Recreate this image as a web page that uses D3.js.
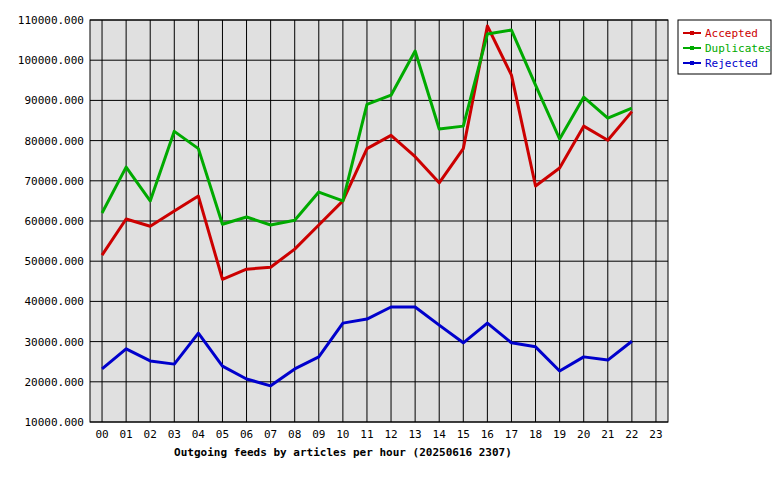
<!DOCTYPE html><html><head><meta charset="utf-8">
<script src="https://cdn.jsdelivr.net/npm/d3@7"></script>
<style>body{margin:0;background:#fff}text{font-family:"DejaVu Sans Mono",monospace;font-size:11px}</style></head><body>
<svg id="c" width="780" height="480"></svg>
<script>
const hours=["00","01","02","03","04","05","06","07","08","09","10","11","12","13","14","15","16","17","18","19","20","21","22","23"];
const accepted=[51500,60500,58700,62500,66200,45500,48000,48500,53000,59000,65000,78000,81300,76000,69500,78000,108500,96300,68700,73200,83600,80100,87200];
const duplicates=[62000,73400,65000,82300,78000,59200,61000,59000,60200,67200,65000,89000,91300,102300,82900,83600,106500,107500,93800,80400,90800,85600,88100];
const rejected=[23200,28200,25200,24400,32100,23900,20700,19000,23200,26200,34600,35600,38600,38600,34100,29700,34600,29700,28700,22700,26200,25400,30100];
const yTicks=[10000,20000,30000,40000,50000,60000,70000,80000,90000,100000,110000];
const series=[{name:"Accepted",data:accepted,color:"#cc0000"},{name:"Duplicates",data:duplicates,color:"#00aa00"},{name:"Rejected",data:rejected,color:"#0000cc"}];
const svg=d3.select("#c");
const L=90,R=668,T=20,B=422;
const x=d3.scaleBand().domain(hours).range([L,R]);
const y=d3.scaleLinear().domain([10000,110000]).range([B,T]);
svg.append("rect").attr("x",L).attr("y",T).attr("width",R-L).attr("height",B-T).attr("fill","#e0e0e0");
svg.selectAll(".gy").data(yTicks).join("line").attr("x1",L).attr("x2",R).attr("y1",d=>y(d)).attr("y2",d=>y(d)).attr("stroke","#000");
svg.selectAll(".gx").data(hours).join("line").attr("x1",d=>x(d)+x.bandwidth()/2).attr("x2",d=>x(d)+x.bandwidth()/2).attr("y1",T).attr("y2",B).attr("stroke","#000");
svg.append("rect").attr("x",L).attr("y",T).attr("width",R-L).attr("height",B-T).attr("fill","none").attr("stroke","#000");
svg.selectAll(".yl").data(yTicks).join("text").attr("x",L-6).attr("y",d=>y(d)+4).attr("text-anchor","end").text(d=>d+".000");
svg.selectAll(".xl").data(hours).join("text").attr("x",d=>x(d)+x.bandwidth()/2).attr("y",B+16).attr("text-anchor","middle").text(d=>d);
svg.append("text").attr("x",343).attr("y",456).attr("text-anchor","middle").attr("font-weight","bold").text("Outgoing feeds by articles per hour (20250616 2307)");
const line=d3.line().x((d,i)=>x(hours[i])+x.bandwidth()/2).y(d=>y(d));
series.forEach(s=>svg.append("path").attr("d",line(s.data)).attr("fill","none").attr("stroke",s.color).attr("stroke-width",3).attr("stroke-linejoin","round"));
const lg=svg.append("g");
lg.append("rect").attr("x",678).attr("y",20).attr("width",93).attr("height",54).attr("fill","#fff").attr("stroke","#000");
series.forEach((s,i)=>{const yy=33+i*15;
lg.append("line").attr("x1",683).attr("x2",701).attr("y1",yy).attr("y2",yy).attr("stroke",s.color).attr("stroke-width",2);
lg.append("rect").attr("x",690).attr("y",yy-2).attr("width",4).attr("height",4).attr("fill",s.color);
lg.append("text").attr("x",705).attr("y",yy+4).attr("fill",s.color).text(s.name);});
</script></body></html>
